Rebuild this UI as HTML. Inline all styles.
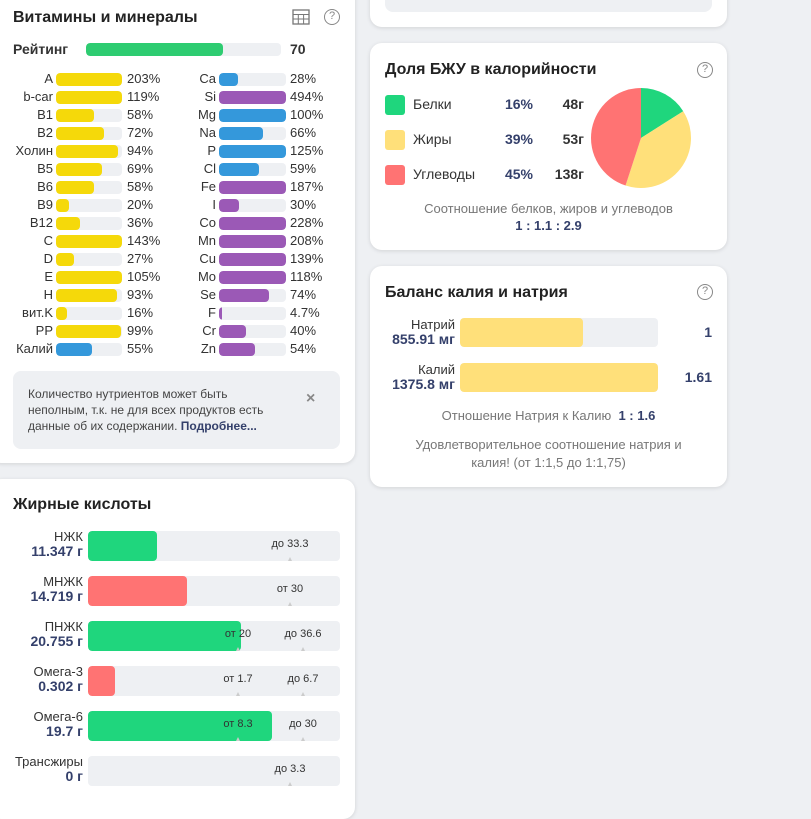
<!DOCTYPE html>
<html><head><meta charset="utf-8">
<style>
*{box-sizing:border-box;margin:0;padding:0}
body{width:811px;height:799px;overflow:hidden;background:#eef0f3;font-family:"Liberation Sans",sans-serif;color:#333;position:relative}
.card{position:absolute;background:#fff;border-radius:12px;box-shadow:0 1px 4px rgba(0,0,0,.12)}
.abs{position:absolute}
.title{position:absolute;font-size:16px;font-weight:bold;color:#222}
.help{position:absolute;width:16px;height:16px;border:1.5px solid #888;border-radius:50%;font-size:11px;color:#888;text-align:center;line-height:13px}
.track{position:absolute;background:#eef0f3;border-radius:4px;overflow:hidden}
.fill{position:absolute;left:0;top:0;bottom:0;border-radius:4px}
.lbl{position:absolute;font-size:13px;color:#333;text-align:right}
.pct{position:absolute;font-size:13px;color:#333}
.val{font-weight:bold;color:#34406b;font-size:14px}
</style></head><body>

<div class="card" style="left:370px;top:-20px;width:357px;height:47px">
  <div class="abs" style="left:15px;top:0;width:327px;height:32px;background:#eef0f3;border-radius:8px"></div>
</div>

<div class="card" style="left:-10px;top:-20px;width:365px;height:483px">
  <div class="title" style="left:23px;top:29px">Витамины и минералы</div>
  <svg class="abs" style="left:302px;top:29px" width="18" height="16"><rect x="1" y="1" width="16" height="14" fill="none" stroke="#777" stroke-width="1.3"/><line x1="1" y1="5.5" x2="17" y2="5.5" stroke="#777"/><line x1="1" y1="10" x2="17" y2="10" stroke="#777"/><line x1="6.3" y1="5.5" x2="6.3" y2="15" stroke="#777"/><line x1="11.6" y1="5.5" x2="11.6" y2="15" stroke="#777"/></svg>
  <div class="help" style="left:334px;top:29px">?</div>
</div>
<div id="vit"></div>
<div class="abs" style="left:13px;top:41px;font-size:14px;font-weight:bold;color:#333">Рейтинг</div>
<div class="track" style="left:86px;top:43px;width:195px;height:13px"><div class="fill" style="width:70%;background:#2ecc71"></div></div>
<div class="abs" style="left:290px;top:41px;font-size:14px;font-weight:bold;color:#333">70</div>

<div class="abs" style="left:13px;top:371px;width:327px;height:78px;background:#eef0f3;border-radius:8px;"></div>
<div class="abs" style="left:28px;top:386px;width:255px;font-size:12px;line-height:16px;color:#444">Количество нутриентов может быть неполным, т.к. не для всех продуктов есть данные об их содержании. <b style="color:#34406b">Подробнее...</b></div>
<div class="abs" style="left:306px;top:390px;font-size:16px;font-weight:bold;color:#888">×</div>

<div class="card" style="left:-10px;top:479px;width:365px;height:340px">
  <div class="title" style="left:23px;top:17px">Жирные кислоты</div>
</div>
<div id="fat"></div>

<div class="card" style="left:370px;top:43px;width:357px;height:207px">
  <div class="title" style="left:15px;top:18px">Доля БЖУ в калорийности</div>
  <div class="help" style="left:327px;top:19px">?</div>
  <div class="abs" style="left:0;width:357px;top:158px;text-align:center;font-size:13px;color:#777">Соотношение белков, жиров и углеводов</div>
  <div class="abs" style="left:0;width:357px;top:175px;text-align:center;font-size:13px;font-weight:bold;color:#34406b">1 : 1.1 : 2.9</div>
</div>
<div id="mac"></div>
<svg id="pie" class="abs" style="left:586px;top:83px" width="110" height="110"></svg>

<div class="card" style="left:370px;top:266px;width:357px;height:221px">
  <div class="title" style="left:15px;top:18px">Баланс калия и натрия</div>
  <div class="help" style="left:327px;top:18px">?</div>
  <div class="abs" style="left:0;width:357px;top:142px;text-align:center;font-size:13px;color:#777">Отношение Натрия к Калию&nbsp; <b style="color:#34406b">1 : 1.6</b></div>
  <div class="abs" style="left:35px;width:287px;top:170px;text-align:center;font-size:13px;line-height:18px;color:#777">Удовлетворительное соотношение натрия и калия! (от 1:1,5 до 1:1,75)</div>
</div>
<div id="bal"></div>

<script>
const vitNames=["A","b-car","B1","B2","Холин","B5","B6","B9","B12","C","D","E","H","вит.K","PP","Калий"];
const vitPct=[203,119,58,72,94,69,58,20,36,143,27,105,93,16,99,55];
const vitLabels=["203%","119%","58%","72%","94%","69%","58%","20%","36%","143%","27%","105%","93%","16%","99%","55%"];
const minNames=["Ca","Si","Mg","Na","P","Cl","Fe","I","Co","Mn","Cu","Mo","Se","F","Cr","Zn"];
const minPct=[28,494,100,66,125,59,187,30,228,208,139,118,74,4.7,40,54];
const minLabels=["28%","494%","100%","66%","125%","59%","187%","30%","228%","208%","139%","118%","74%","4.7%","40%","54%"];
const minBlue=[1,0,1,1,1,1,0,0,0,0,0,0,0,0,0,0];

const fatNames=["НЖК","МНЖК","ПНЖК","Омега-3","Омега-6","Трансжиры"];
const fatVals=[11.347,14.719,20.755,0.302,19.7,0];
const fatValLabels=["11.347 г","14.719 г","20.755 г","0.302 г","19.7 г","0 г"];
const fatMin=[null,30,20,1.7,8.3,null];
const fatMax=[33.3,null,36.6,6.7,30,3.3];
const fatGood=[1,0,1,0,1,1];

const macNames=["Белки","Жиры","Углеводы"];
const macPct=[16,39,45];
const macGrams=["48г","53г","138г"];
const macColors=["#1fd67d","#ffe07a","#ff7373"];

const balNames=["Натрий","Калий"];
const balVals=[855.91,1375.8];
const balValLabels=["855.91 мг","1375.8 мг"];
const balRatio=["1","1.61"];

function mk(parent,tag,style,name,text){const e=document.createElement(tag);e.style.cssText=style;if(text!==undefined)e.textContent=text;


parent.appendChild(e);return e;}

const vit=document.getElementById('vit');
const rowY=i=>73+i*18;
const vitW=66;
vitNames.forEach((n,i)=>{
  mk(vit,'div',`left:0;width:53px;top:${rowY(i)-2}px`,'vitamin-label',n).className='lbl';
  const t=mk(vit,'div',`left:56px;top:${rowY(i)}px;width:${vitW}px;height:13px`,'vitamin-track');t.className='track';
  const f=mk(t,'div',`width:${Math.min(vitPct[i],100)/100*vitW}px;background:${i==15?'#3498db':'#f5d90a'}`,'vitamin-bar');f.className='fill';
  mk(vit,'div',`left:127px;top:${rowY(i)-2}px`,'vitamin-pct',vitLabels[i]).className='pct';
});
minNames.forEach((n,i)=>{
  mk(vit,'div',`left:160px;width:56px;top:${rowY(i)-2}px`,'mineral-label',n).className='lbl';
  const t=mk(vit,'div',`left:219px;top:${rowY(i)}px;width:67px;height:13px`,'mineral-track');t.className='track';
  const f=mk(t,'div',`width:${Math.max(Math.min(minPct[i],100)/100*67,3)}px;background:${minBlue[i]?'#3498db':'#9b59b6'}`,'mineral-bar');f.className='fill';
  mk(vit,'div',`left:290px;top:${rowY(i)-2}px`,'mineral-pct',minLabels[i]).className='pct';
});

const fat=document.getElementById('fat');
const FW=252;
function fx(i,v){const mn=fatMin[i],mx=fatMax[i];
  if(mn!=null&&mx!=null){return v<=mn? v/mn*150 : 150+(v-mn)/(mx-mn)*65;}
  const ref=mx!=null?mx:mn;return v/ref*202;}
fatNames.forEach((n,i)=>{
  const y=531+i*45;
  mk(fat,'div',`left:0;width:83px;top:${y-2}px;font-size:13px`,'fat-label',n).className='lbl';
  const v=mk(fat,'div',`left:0;width:83px;top:${y+12}px`,'fat-value',fatValLabels[i]);v.className='lbl val';
  const t=mk(fat,'div',`left:88px;top:${y}px;width:${FW}px;height:30px`,'fat-track');t.className='track';
  if(fatVals[i]>0){const f=mk(t,'div',`width:${Math.min(fx(i,fatVals[i]),FW)}px;background:${fatGood[i]?'#1fd67d':'#ff7373'}`,'fat-bar');f.className='fill';}
  const marks=[];
  if(fatMin[i]!=null)marks.push(['от '+fatMin[i],fx(i,fatMin[i])]);
  if(fatMax[i]!=null)marks.push(['до '+fatMax[i],fx(i,fatMax[i])]);
  marks.forEach(m=>{
    mk(fat,'div',`position:absolute;left:${88+m[1]-40}px;width:80px;text-align:center;top:${y+7}px;font-size:11px;color:#333`,'fat-marker-label',m[0]);
    mk(fat,'div',`position:absolute;left:${88+m[1]-2}px;top:${y+26}px;width:0;height:0;border-left:2px solid transparent;border-right:2px solid transparent;border-bottom:4px solid #ccc`,'fat-marker-tick');
  });
});

const mac=document.getElementById('mac');
macNames.forEach((n,i)=>{
  const y=95+i*35;
  mk(mac,'div',`position:absolute;left:385px;top:${y}px;width:20px;height:20px;border-radius:3px;background:${macColors[i]}`,'legend-swatch');
  mk(mac,'div',`position:absolute;left:413px;top:${y+1}px;font-size:14px;color:#333`,'legend-name',n);
  mk(mac,'div',`position:absolute;left:500px;width:38px;text-align:center;top:${y+1}px;font-size:14px;font-weight:bold;color:#34406b`,'legend-pct',macPct[i]+'%');
  mk(mac,'div',`position:absolute;left:540px;width:44px;text-align:right;top:${y+1}px;font-size:14px;font-weight:bold;color:#333`,'legend-grams',macGrams[i]);
});
const pie=document.getElementById('pie');
const tot=macPct.reduce((a,b)=>a+b,0);let a0=0;const cx=55,cy=55,r=50;
macPct.forEach((p,i)=>{
  const a1=a0+p/tot*2*Math.PI;
  const x0=cx+r*Math.sin(a0),y0=cy-r*Math.cos(a0),x1=cx+r*Math.sin(a1),y1=cy-r*Math.cos(a1);
  const path=document.createElementNS('http://www.w3.org/2000/svg','path');
  path.setAttribute('d',`M${cx},${cy}L${x0},${y0}A${r},${r} 0 ${a1-a0>Math.PI?1:0} 1 ${x1},${y1}Z`);
  path.setAttribute('fill',macColors[i]);
  
  
  pie.appendChild(path);a0=a1;
});

const bal=document.getElementById('bal');
const bmax=Math.max(...balVals);
balNames.forEach((n,i)=>{
  const y=318+i*45;
  mk(bal,'div',`left:370px;width:85px;top:${y-1}px;font-size:13px`,'balance-label',n).className='lbl';
  mk(bal,'div',`left:370px;width:85px;top:${y+13}px`,'balance-value',balValLabels[i]).className='lbl val';
  const t=mk(bal,'div',`left:460px;top:${y}px;width:198px;height:29px`,'balance-track');t.className='track';
  const f=mk(t,'div',`width:${balVals[i]/bmax*198}px;background:#ffe07a`,'balance-bar');f.className='fill';
  mk(bal,'div',`position:absolute;left:660px;width:52px;text-align:right;top:${y+6}px;font-size:14px;font-weight:bold;color:#34406b`,'balance-ratio-value',balRatio[i]);
});
</script>
</body></html>
